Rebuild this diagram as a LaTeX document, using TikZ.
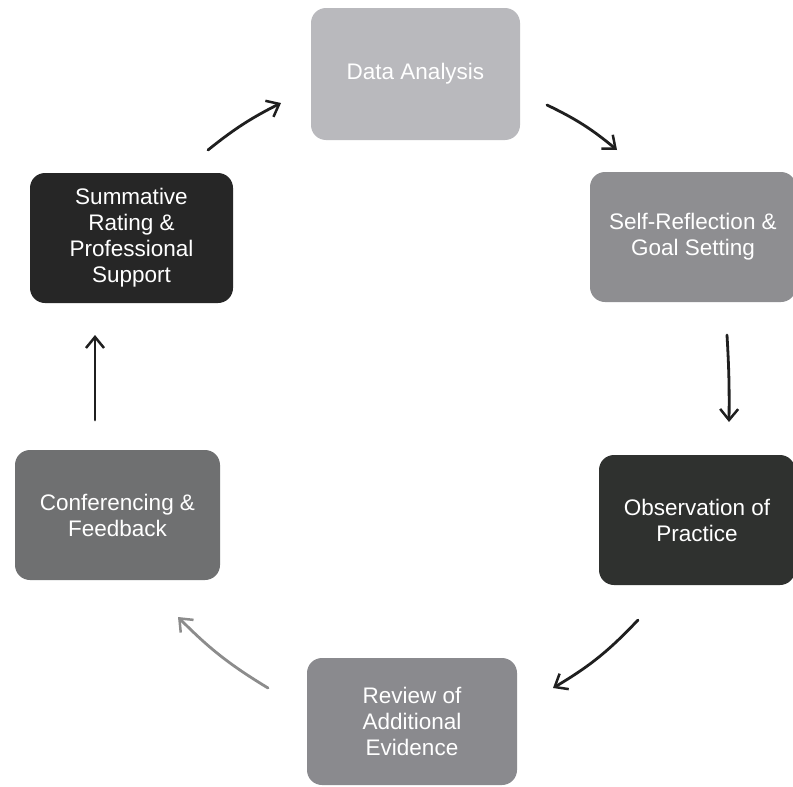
\documentclass[tikz,border=0pt]{standalone}
\usepackage{fontspec}
\setmainfont{Liberation Sans}
\usetikzlibrary{arrows.meta}
\definecolor{cLight}{HTML}{B9B9BD}
\definecolor{cMid}{HTML}{8E8E91}
\definecolor{cMidB}{HTML}{8A8A8E}
\definecolor{cConf}{HTML}{6F7071}
\definecolor{cDark}{HTML}{2F312F}
\definecolor{cDarker}{HTML}{262626}
\tikzset{
  stage/.style={rounded corners=15pt, inner sep=0pt, text=white, align=center,
    font=\fontsize{22.5}{26}\selectfont},
  cyc/.style={line width=2.8pt, black!88, line cap=round,
    -{Straight Barb[length=11pt,width=18pt,line width=2.5pt]}},
  cycpale/.style={cyc, black!45}
}
\begin{document}
\begin{tikzpicture}[x=1pt,y=-1pt]
\useasboundingbox (0,0) rectangle (793,787);
\fill[white] (0,0) rectangle (793,787);
% boxes
\node[stage, fill=cLight, minimum width=209pt, minimum height=132pt] (data) at (415.5,74) {Data Analysis};
\node[stage, fill=cMid, minimum width=206pt, minimum height=130pt] (self) at (693,237) {Self-Reflection \&\\Goal Setting};
\node[stage, fill=cDark, minimum width=196pt, minimum height=130pt] (obs) at (697,520) {Observation of\\Practice};
\node[stage, fill=cMidB, minimum width=210pt, minimum height=127pt] (rev) at (412,721.5) {Review of\\Additional\\Evidence};
\node[stage, fill=cConf, minimum width=205pt, minimum height=130pt] (conf) at (117.5,515) {Conferencing \&\\Feedback};
\node[stage, fill=cDarker, minimum width=203pt, minimum height=130pt] (sum) at (131.5,238) {Summative\\Rating \&\\Professional\\Support};
% arrow end points
\coordinate (a1s) at (208,150); \coordinate (a1e) at (281,103);
\coordinate (a2s) at (547,105); \coordinate (a2e) at (617,150);
\coordinate (a3s) at (727,335); \coordinate (a3e) at (729,422);
\coordinate (a4s) at (638,620); \coordinate (a4e) at (553,688);
\coordinate (a5s) at (268,688); \coordinate (a5e) at (178,617);
\coordinate (a6s) at (95,420);  \coordinate (a6e) at (95,335);
\draw[cyc] (a1s) to[bend left=6] (a1e);
\draw[cyc] (a2s) to[bend left=7] (a2e);
\draw[cyc] (a3s) to[bend left=2] (a3e);
\draw[cyc] (a4s) to[bend left=8] (a4e);
\draw[cycpale] (a5s) to[bend left=7] (a5e);
\draw[cyc] (a6s) to (a6e);
\end{tikzpicture}
\end{document}
